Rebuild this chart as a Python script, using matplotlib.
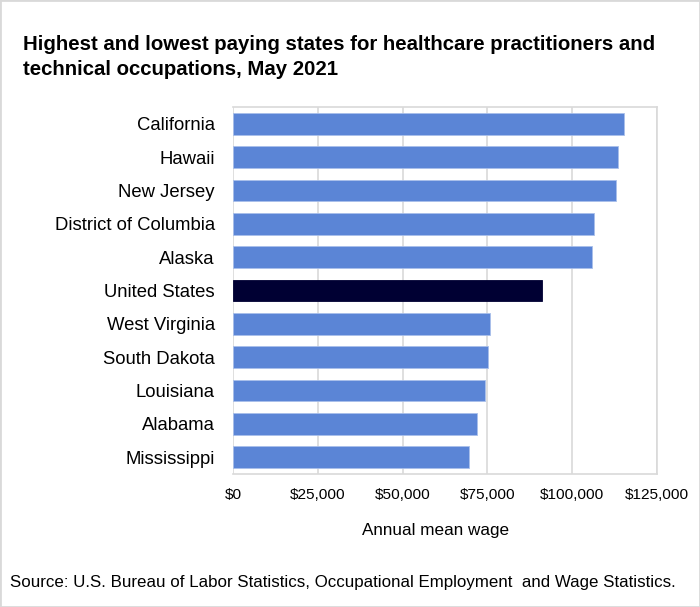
import matplotlib
matplotlib.use("Agg")
import matplotlib.pyplot as plt
from matplotlib.patches import Rectangle

plt.rcParams['font.family'] = ['Liberation Sans', 'DejaVu Sans']

states = ["California", "Hawaii", "New Jersey", "District of Columbia", "Alaska",
          "United States", "West Virginia", "South Dakota", "Louisiana", "Alabama", "Mississippi"]
wages = [115400, 113500, 113000, 106500, 105800, 91000, 75700, 75200, 74200, 71900, 69700]
xticks = [0, 25000, 50000, 75000, 100000, 125000]
xtick_labels = ["$0", "$25,000", "$50,000", "$75,000", "$100,000", "$125,000"]

blue = "#5B85D6"
navy = "#000033"
colors = [navy if s == "United States" else blue for s in states]

W, H = 700, 607
fig = plt.figure(figsize=(W / 100, H / 100), dpi=100)
ax = fig.add_axes([233 / W, 1 - 474 / H, (657 - 233) / W, (474 - 107) / H])

y = list(range(len(states)))
ax.barh(y, wages, height=0.65, color=colors, edgecolor=[("#A9BFEA" if c == blue else navy) for c in colors], linewidth=0.6, zorder=3)
ax.set_ylim(len(states) - 0.5, -0.5)
ax.set_xlim(0, 125000)
ax.set_yticks(y)
ax.set_yticklabels(states, fontsize=13.3)
ax.set_xticks(xticks)
ax.set_xticklabels(xtick_labels, fontsize=11.1)
ax.tick_params(axis='both', length=0)
ax.tick_params(axis='y', pad=13)
ax.tick_params(axis='x', pad=10)
ax.grid(axis='x', color='#D9D9D9', linewidth=1.2, zorder=0)
for sp in ax.spines.values():
    sp.set_color('#D9D9D9')
    sp.set_linewidth(1.2)
ax.spines['left'].set_visible(False)

fig.text(436 / W, 1 - 530 / H, "Annual mean wage", ha='center', va='center', fontsize=12.3)

fig.text(23 / W, 1 - 57 / H, "Highest and lowest paying states for healthcare practitioners and\ntechnical occupations, May 2021",
         ha='left', va='center', fontsize=14.7, fontweight='bold', linespacing=1.35)
fig.text(10 / W, 1 - 582 / H, "Source: U.S. Bureau of Labor Statistics, Occupational Employment  and Wage Statistics.",
         ha='left', va='center', fontsize=12.2)

fig.patches.append(Rectangle((0, 0), 1, 1, transform=fig.transFigure, fill=False,
                             edgecolor='#D9D9D9', linewidth=2))

fig.savefig("out.png", dpi=100)
